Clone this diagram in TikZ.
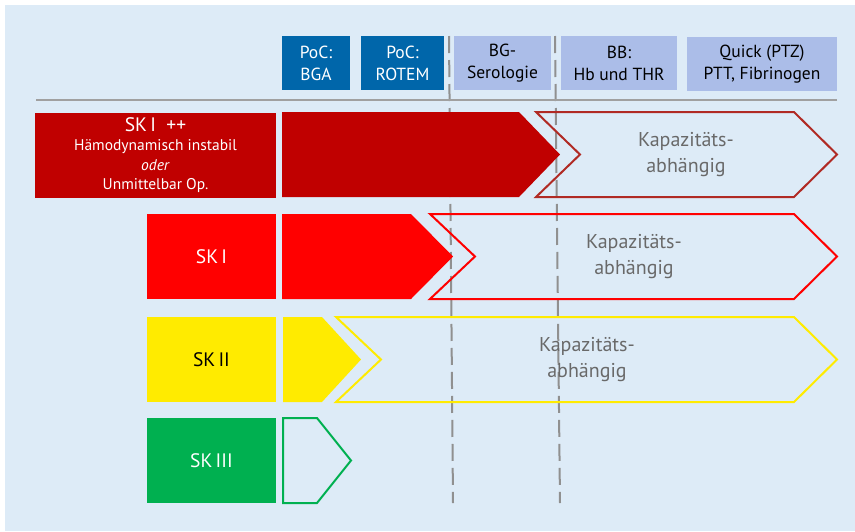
\documentclass[tikz,border=0pt]{standalone}
\usepackage{fontspec}
\setmainfont{PT Sans}
\definecolor{bgblue}{RGB}{221,235,247}
\definecolor{pocblue}{RGB}{0,102,170}
\definecolor{labblue}{RGB}{171,189,232}
\definecolor{skdark}{RGB}{192,0,0}
\definecolor{skred}{RGB}{255,0,0}
\definecolor{skyellow}{RGB}{255,235,0}
\definecolor{skgreen}{RGB}{0,176,80}
\definecolor{darkedge}{RGB}{176,42,36}
\definecolor{rulegray}{RGB}{160,160,160}
\definecolor{kaptext}{RGB}{105,105,105}
\begin{document}
\begin{tikzpicture}[x=1pt,y=-1pt,
  hdrbox/.style={minimum width=#1, minimum height=54pt, inner sep=0pt, align=center,
    font=\fontsize{17.5}{22}\selectfont},
  poc/.style={hdrbox=#1, fill=pocblue, text=white},
  lab/.style={hdrbox=#1, fill=labblue, text=black},
  skbox/.style={minimum width=#1, minimum height=85pt, inner sep=0pt, align=center},
  sklabel/.style={font=\fontsize{19.5}{22}\selectfont},
  kap/.style={align=center, text=kaptext, font=\fontsize{20}{26}\selectfont},
  timeline/.style={draw=rulegray!90!black, line width=2pt, dash pattern=on 17pt off 7pt},
  outline/.style={line width=2pt, line join=miter, fill=none}
]
% canvas
\fill[white] (0,0) rectangle (855,531);
\fill[bgblue] (5,5) rectangle (855,531);
\useasboundingbox (0,0) rectangle (855,531);

% time markers
\coordinate (m1top) at (449,36);
\coordinate (m1bot) at (453,503);
\coordinate (m2top) at (555,36);
\coordinate (m2bot) at (560,503);
\draw[timeline] (m1top) -- (m1bot);
\draw[timeline] (m2top) -- (m2bot);

% diagnostics header
\node[poc=68pt]  (bga)   at (316,63)   {PoC:\\BGA};
\node[poc=83pt]  (rotem) at (402.5,63) {PoC:\\ROTEM};
\node[lab=97pt]  (bgs)   at (502.5,63) {BG-\\Serologie};
\node[lab=116pt] (bb)    at (619,63)   {BB:\\Hb und THR};
\node[lab=150pt] (quick) at (762,64)   {Quick (PTZ)\\PTT, Fibrinogen};

% header rule
\coordinate (ruleL) at (36,100);
\coordinate (ruleR) at (837,100);
\draw[rulegray, line width=2.6pt] (ruleL) -- (ruleR);

% SK I ++
\node[skbox=241pt, fill=skdark, text=white, font=\fontsize{15.5}{19.5}\selectfont]
  (skIpp) at (155.5,155)
  {{\fontsize{19.5}{20}\selectfont SK\,I\ \ ++}\\
   H\"amodynamisch instabil\\
   \textit{oder}\\
   Unmittelbar Op.};
\fill[skdark] (282,112) -- (519,112) -- (560,154.5) -- (519,197) -- (282,197) -- cycle;
\draw[outline, draw=darkedge] (536,112) -- (794,112) -- (837,154.5) -- (794,197)
  -- (536,197) -- (580,154.5) -- cycle;
\node[kap] (kapIpp) at (686,154.5) {Kapazit\"ats-\\abh\"angig};

% SK I
\node[skbox=129pt, fill=skred, text=white, sklabel] (skI) at (211.5,256.5) {SK\,I};
\fill[skred] (282,214) -- (411,214) -- (453,256.5) -- (411,299) -- (282,299) -- cycle;
\draw[outline, draw=skred] (430,214) -- (794,214) -- (837,256.5) -- (794,299)
  -- (430,299) -- (475,256.5) -- cycle;
\node[kap] (kapI) at (634,256.5) {Kapazit\"ats-\\abh\"angig};

% SK II
\node[skbox=129pt, fill=skyellow, text=black, sklabel] (skII) at (211.5,359.5) {SK\,II};
\fill[skyellow] (283,317) -- (322,317) -- (361,359.5) -- (322,402) -- (283,402) -- cycle;
\draw[outline, draw=skyellow] (336,317) -- (794,317) -- (837,359.5) -- (794,402)
  -- (336,402) -- (381,359.5) -- cycle;
\node[kap] (kapII) at (587,359.5) {Kapazit\"ats-\\abh\"angig};

% SK III
\node[skbox=129pt, fill=skgreen, text=white, sklabel] (skIII) at (211.5,460.5) {SK\,III};
\draw[outline, draw=skgreen] (283,418) -- (317,418) -- (351,460.5) -- (317,503)
  -- (283,503) -- cycle;
\end{tikzpicture}
\end{document}
